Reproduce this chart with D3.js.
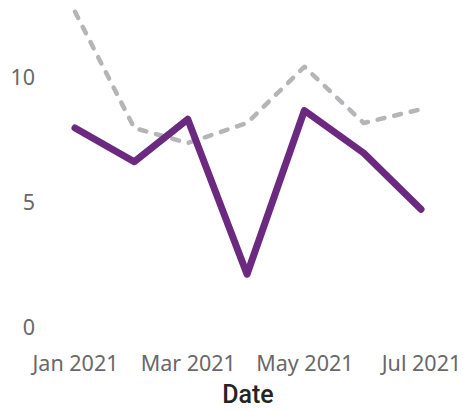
<!DOCTYPE html>
<html>
<head>
<meta charset="utf-8">
<script src="https://cdn.jsdelivr.net/npm/d3@7"></script>
<style>
  body { margin: 0; background: #fff; }
  svg { display: block; }
</style>
</head>
<body>
<svg id="chart" width="463" height="412"></svg>
<script>
// monthly values
var months = ["2021-01-01", "2021-02-01", "2021-03-01", "2021-04-01", "2021-05-01", "2021-06-01", "2021-07-01"];
var actual = [8.0, 6.65, 8.35, 2.15, 8.7, 7.0, 4.75];
var target = [12.65, 8.0, 7.4, 8.2, 10.45, 8.2, 8.75];
var yTicks = [0, 5, 10];
var xTicks = ["2021-01-01", "2021-03-01", "2021-05-01", "2021-07-01"];

var parse = d3.timeParse("%Y-%m-%d");
var dates = months.map(parse);

let svg = d3.select("#chart");

let xScale = d3.scaleTime()
  .domain([dates[0], dates[dates.length - 1]])
  .range([75, 421]);

let yScale = d3.scaleLinear()
  .domain([0, 13])
  .range([328, 3]);

// y axis, labels only
svg.append("g")
  .attr("transform", "translate(35,0)")
  .call(d3.axisLeft(yScale)
    .tickValues(yTicks)
    .tickSize(0)
    .tickPadding(0)
    .tickFormat(d3.format("d"))
  )
  .call(g => g.select(".domain").remove())
  .selectAll("text")
  .style("font-family", "'Noto Sans', sans-serif")
  .style("font-size", "21.5px")
  .attr("fill", "#69676A");

// x axis, labels only
svg.append("g")
  .attr("transform", "translate(0,356)")
  .call(d3.axisBottom(xScale)
    .tickValues(xTicks.map(parse))
    .tickSize(0)
    .tickPadding(0)
    .tickFormat(d3.timeFormat("%b %Y"))
  )
  .call(g => g.select(".domain").remove())
  .selectAll("text")
  .style("font-family", "'Noto Sans', sans-serif")
  .style("font-size", "21.5px")
  .attr("fill", "#69676A");

svg.append("text")
  .attr("x", 248)
  .attr("y", 403)
  .attr("text-anchor", "middle")
  .style("font-family", "Roboto, sans-serif")
  .style("font-weight", "500")
  .style("font-size", "25px")
  .attr("fill", "#252423")
  .text("Date");

let line = d3.line()
  .x((d, i) => xScale(dates[i]))
  .y(d => yScale(d));

// dashed comparison line
svg.append("path")
  .datum(target)
  .attr("d", line)
  .attr("fill", "none")
  .attr("stroke", "#B5B5B8")
  .attr("stroke-width", 4.5)
  .attr("stroke-linecap", "round")
  .attr("stroke-linejoin", "round")
  .attr("stroke-dasharray", "7,10");

// main series
svg.append("path")
  .datum(actual)
  .attr("d", line)
  .attr("fill", "none")
  .attr("stroke", "#6B2A7F")
  .attr("stroke-width", 7)
  .attr("stroke-linecap", "round")
  .attr("stroke-linejoin", "round");
</script>
</body>
</html>
